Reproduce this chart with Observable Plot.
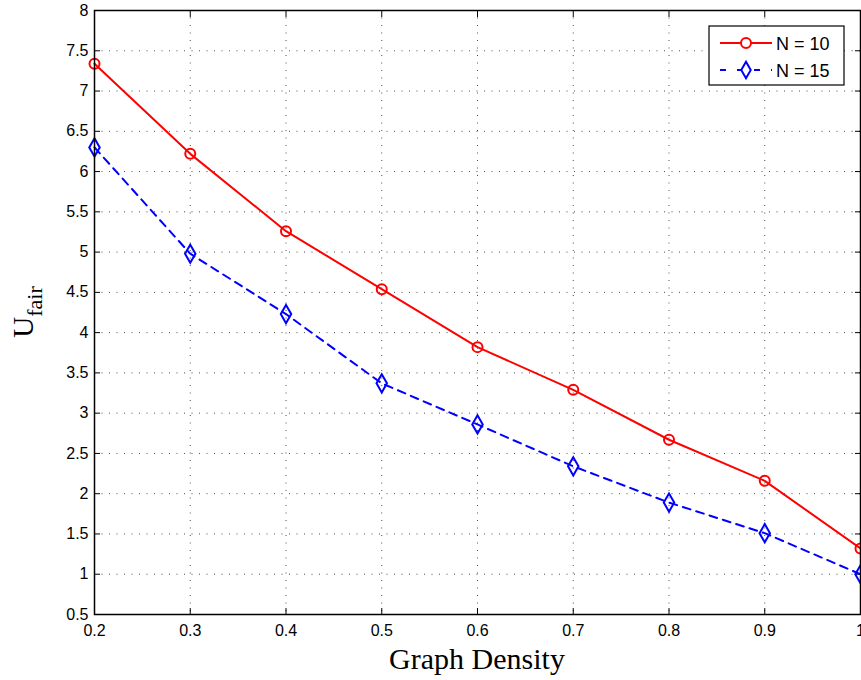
<!DOCTYPE html>
<html>
<head>
<meta charset="utf-8">
<script src="https://cdn.jsdelivr.net/npm/d3@7"></script>
<script src="https://cdn.jsdelivr.net/npm/@observablehq/plot@0.6"></script>
<style>
  html, body { margin: 0; padding: 0; background: white; }
  #chart { position: relative; width: 861px; height: 680px; }
</style>
</head>
<body>
<div id="chart"></div>
<script>
const density = [0.2, 0.3, 0.4, 0.5, 0.6, 0.7, 0.8, 0.9, 1.0];
const uFairN10 = [7.34, 6.22, 5.26, 4.54, 3.82, 3.29, 2.67, 2.16, 1.32];
const uFairN15 = [6.30, 4.98, 4.23, 3.37, 2.86, 2.34, 1.89, 1.51, 1.00];
const seriesNames = ["N = 10", "N = 15"];
const xTicks = [0.2, 0.3, 0.4, 0.5, 0.6, 0.7, 0.8, 0.9, 1.0];
const yTicks = [0.5, 1, 1.5, 2, 2.5, 3, 3.5, 4, 4.5, 5, 5.5, 6, 6.5, 7, 7.5, 8];
const xLabel = "Graph Density";
const yLabelMain = "U";
const yLabelSub = "fair";

const rows10 = density.map((x, i) => ({x, y: uFairN10[i]}));
const rows15 = density.map((x, i) => ({x, y: uFairN15[i]}));

const red = "#ff0000", blue = "#0000ff";
const gridStyle = {stroke: "#000", strokeOpacity: 0.7, strokeDasharray: "1,6.5", strokeWidth: 1};

const plot = Plot.plot({
  width: 861,
  height: 680,
  marginLeft: 94,
  marginTop: 10,
  marginRight: 1,
  marginBottom: 66,
  style: {fontFamily: "'Liberation Sans', Arial, sans-serif", fontSize: "16px", background: "white", color: "black"},
  x: {domain: [0.2, 1], ticks: xTicks},
  y: {domain: [0.5, 8], ticks: yTicks},
  marks: [
    Plot.gridX(xTicks.slice(1, -1), gridStyle),
    Plot.gridY(yTicks.slice(1, -1), gridStyle),
    Plot.axisX(xTicks, {anchor: "bottom", tickSize: -6, tickPadding: 16, tickFormat: d => String(+d.toFixed(1)), label: null, fontSize: 16}),
    Plot.axisX(xTicks, {anchor: "top", tickSize: -6, tickFormat: () => "", label: null}),
    Plot.axisY(yTicks, {anchor: "left", tickSize: -6, tickPadding: 12, tickFormat: d => String(d), label: null, fontSize: 16}),
    Plot.axisY(yTicks, {anchor: "right", tickSize: -6, tickFormat: () => "", label: null}),
    Plot.line(rows10, {x: "x", y: "y", stroke: red, strokeWidth: 2}),
    Plot.dot(rows10, {x: "x", y: "y", stroke: red, strokeWidth: 2, r: 5, fill: "none"}),
    Plot.line(rows15, {x: "x", y: "y", stroke: blue, strokeWidth: 2, strokeDasharray: "8,6"}),
    Plot.dot(rows15, {x: "x", y: "y", stroke: blue, strokeWidth: 2, symbol: "diamond", r: 5.5, fill: "none"}),
    Plot.frame({stroke: "black", strokeWidth: 1.5})
  ]
});

document.getElementById("chart").appendChild(plot);

const svg = d3.select(plot);
// axis labels
svg.append("text")
  .attr("x", 94 + (861 - 1 - 94) / 2)
  .attr("y", 669)
  .attr("text-anchor", "middle")
  .attr("font-family", "'Liberation Serif', 'Times New Roman', serif")
  .attr("font-size", 30)
  .attr("fill", "black")
  .text(xLabel);

const yl = svg.append("text")
  .attr("transform", `translate(33,${10 + 604 / 2}) rotate(-90)`)
  .attr("text-anchor", "middle")
  .attr("font-family", "'Liberation Serif', 'Times New Roman', serif")
  .attr("font-size", 29)
  .attr("fill", "black");
yl.append("tspan").text(yLabelMain);
yl.append("tspan").attr("font-size", 22).attr("dy", 9).text(yLabelSub);

// legend
const lg = svg.append("g").attr("transform", "translate(709,26)");
lg.append("rect").attr("width", 135).attr("height", 59).attr("fill", "white").attr("stroke", "black").attr("stroke-width", 1.2);
const items = [
  {name: seriesNames[0], color: red, dash: null, sym: "circle"},
  {name: seriesNames[1], color: blue, dash: "6,11", sym: "diamond"}
];
items.forEach((it, i) => {
  const cy = 17 + i * 27;
  lg.append("line").attr("x1", 11).attr("x2", 63).attr("y1", cy).attr("y2", cy)
    .attr("stroke", it.color).attr("stroke-width", 2).attr("stroke-dasharray", it.dash);
  const s = it.sym === "circle" ? d3.symbol(d3.symbolCircle, Math.PI * 25) : d3.symbol(d3.symbolDiamond, 78);
  lg.append("path").attr("d", s()).attr("transform", `translate(37,${cy})`)
    .attr("fill", "white").attr("stroke", it.color).attr("stroke-width", 2);
  lg.append("text").attr("x", 67).attr("y", cy + 6.5).attr("font-size", 18)
    .attr("text-anchor", "start")
    .attr("font-family", "'Liberation Sans', Arial, sans-serif").attr("fill", "black").text(it.name);
});
</script>
</body>
</html>
